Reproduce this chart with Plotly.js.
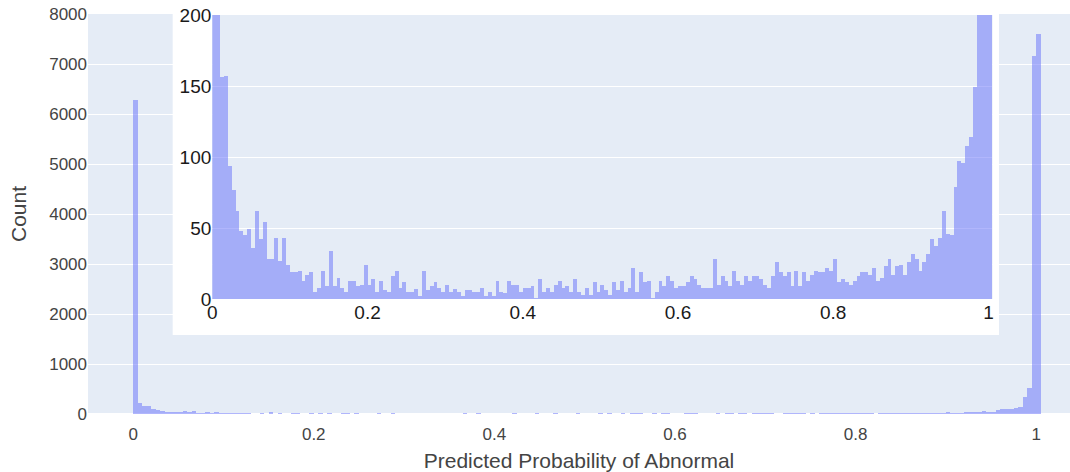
<!DOCTYPE html>
<html>
<head>
<meta charset="utf-8">
<script src="https://cdn.plot.ly/plotly-3.0.1.min.js"></script>
<style>
  html, body { margin: 0; padding: 0; background: #fff; }
  #chart { width: 1070px; height: 472px; }
</style>
</head>
<body>
<div id="chart"></div>
<script>
// Histogram of predicted probabilities, bins of width 0.005 starting at 0
const binStart = 0;
const binWidth = 0.005;
const counts = [
  6280, 225, 156, 157, 94, 77, 62, 48, 45, 49,
  36, 62, 42, 54, 28, 28, 43, 27, 43, 24,
  19, 19, 20, 13, 17, 19, 5, 8, 20, 9,
  34, 9, 15, 8, 5, 13, 13, 9, 10, 24,
  10, 14, 5, 13, 6, 5, 16, 20, 8, 12,
  5, 5, 7, 2, 20, 6, 9, 12, 8, 5,
  10, 5, 7, 5, 2, 6, 6, 5, 5, 8,
  2, 5, 2, 13, 5, 4, 13, 10, 10, 5,
  8, 8, 9, 1, 14, 5, 8, 5, 10, 13,
  8, 9, 5, 14, 5, 3, 8, 3, 12, 5,
  10, 6, 3, 12, 6, 13, 5, 8, 22, 5,
  19, 12, 13, 1, 5, 13, 9, 16, 13, 8,
  9, 9, 12, 16, 14, 10, 8, 8, 8, 28,
  10, 16, 13, 9, 20, 13, 10, 16, 13, 16,
  16, 14, 10, 8, 16, 26, 19, 16, 19, 9,
  20, 9, 19, 13, 17, 20, 19, 19, 22, 20,
  28, 12, 14, 12, 10, 13, 16, 19, 19, 17,
  22, 13, 15, 23, 28, 17, 23, 24, 17, 26,
  32, 28, 20, 26, 32, 42, 37, 43, 62, 46,
  45, 79, 97, 96, 108, 114, 149, 333, 520, 7160,
  7610
];
const binEdges = counts.map((_, i) => +(binStart + i * binWidth).toFixed(4));

const xTitle = 'Predicted Probability of Abnormal';
const yTitle = 'Count';
const mainYTicks = [0, 1000, 2000, 3000, 4000, 5000, 6000, 7000, 8000];
const mainXTicks = [0, 0.2, 0.4, 0.6, 0.8, 1];
const insetXTicks = [0, 0.2, 0.4, 0.6, 0.8, 1];
const insetYTicks = [0, 50, 100, 150, 200];

const barColor = '#636efa';
const FONT = 'Arial, "Liberation Sans", sans-serif';

const common = {
  type: 'bar',
  x: binEdges,
  y: counts,
  width: binWidth,
  offset: 0,
  marker: { color: barColor, opacity: 0.5, line: { width: 0 } },
  hoverinfo: 'x+y',
  showlegend: false
};

const traces = [
  Object.assign({}, common, { xaxis: 'x', yaxis: 'y' }),
  Object.assign({}, common, { xaxis: 'x2', yaxis: 'y2' })
];

const layout = {
  width: 1070,
  height: 472,
  margin: { l: 88, r: 0, t: 14, b: 58 },
  paper_bgcolor: '#ffffff',
  plot_bgcolor: '#e5ecf6',
  bargap: 0,
  font: { family: FONT, size: 17, color: '#444' },
  xaxis: {
    domain: [0, 1],
    range: [-0.05, 1.0375],
    tickvals: mainXTicks,
    ticktext: mainXTicks.map(String),
    showgrid: false,
    zeroline: false,
    showline: false,
    ticks: 'outside',
    ticklen: 5,
    tickcolor: 'rgba(0,0,0,0)',
    tickfont: { size: 17, color: '#444' },
    title: { text: xTitle, font: { size: 21, color: '#444' }, standoff: 12 }
  },
  yaxis: {
    domain: [0, 1],
    range: [0, 8000],
    tickvals: mainYTicks,
    ticktext: mainYTicks.map(String),
    showgrid: true,
    gridcolor: '#ffffff',
    gridwidth: 1,
    zeroline: true,
    zerolinecolor: '#ffffff',
    zerolinewidth: 2,
    ticks: '',
    tickfont: { size: 17, color: '#444' },
    title: { text: yTitle, font: { size: 21, color: '#444' }, standoff: 16 }
  },
  xaxis2: {
    anchor: 'y2',
    domain: [0.1266, 0.9209],
    range: [0, 1.005],
    tickvals: insetXTicks,
    ticktext: insetXTicks.map(String),
    showgrid: false,
    zeroline: false,
    ticks: '',
    tickfont: { size: 19, color: '#1a1a1a' }
  },
  yaxis2: {
    anchor: 'x2',
    domain: [0.2875, 0.9975],
    range: [0, 200],
    tickvals: insetYTicks,
    ticktext: insetYTicks.map(String),
    showgrid: true,
    gridcolor: '#ffffff',
    gridwidth: 1,
    zeroline: false,
    ticks: '',
    tickfont: { size: 19, color: '#1a1a1a' }
  },
  shapes: [
    {
      type: 'rect', layer: 'below',
      xref: 'x2 domain', yref: 'y2 domain',
      x0: -0.0508, x1: 1.0086, y0: -0.1268, y1: 1.06,
      fillcolor: '#ffffff', line: { width: 0 }
    },
    {
      type: 'rect', layer: 'below',
      xref: 'x2 domain', yref: 'y2 domain',
      x0: 0, x1: 1, y0: 0, y1: 1,
      fillcolor: '#e5ecf6', line: { width: 0 }
    }
  ]
};

Plotly.newPlot('chart', traces, layout, { displayModeBar: false, staticPlot: true });
</script>
</body>
</html>
